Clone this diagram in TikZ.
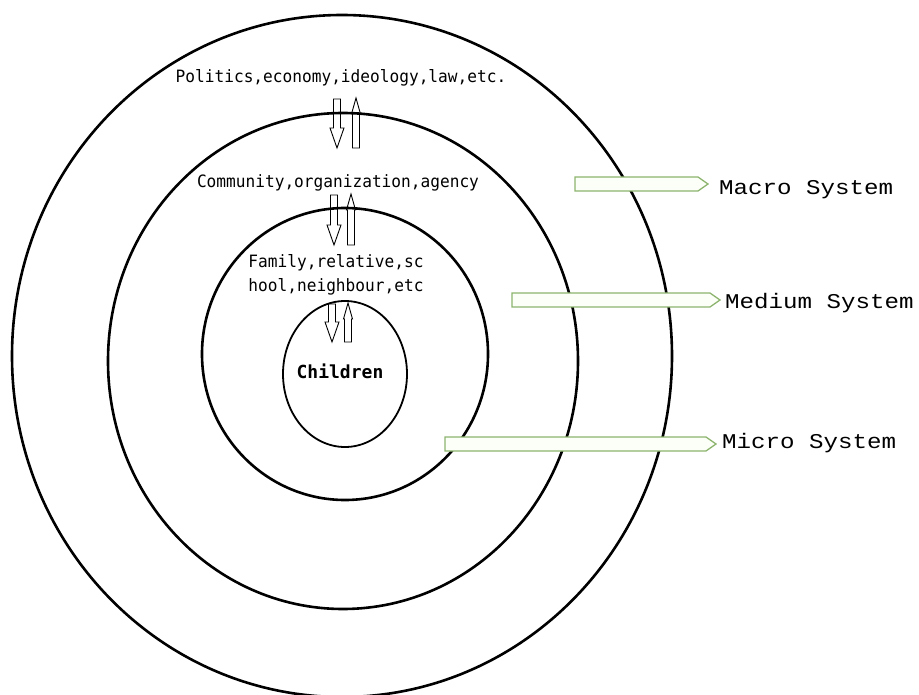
\documentclass[tikz,border=0pt]{standalone}
\usepackage{fontspec}
\usepackage{tikz}
\newfontfamily\monofont{DejaVu Sans Mono}
\newfontfamily\labelfont{Liberation Mono}
\definecolor{arrowgreen}{HTML}{8DB46E}
\definecolor{arrowfill}{HTML}{FBFFF7}
\tikzset{ring/.style={line width=2.6pt},
  levelarrow/.style={draw=arrowgreen,fill=arrowfill,line width=1.3pt},
  flowarrow/.style={draw,line width=0.9pt,line join=miter},
  systext/.style={font=\labelfont\fontsize{21}{24}\selectfont,xscale=1.15,anchor=west,inner sep=0pt}}
% green block arrow: x start, x end, y
\newcommand{\levelarr}[3]{\draw[levelarrow](#1,#3-7)--(#2-10,#3-7)--(#2,#3)--(#2-10,#3+7)--(#1,#3+7)--cycle;}
\begin{document}
\begin{tikzpicture}[x=1pt,y=-1pt]
\useasboundingbox (0,0) rectangle (919,695);
% the four systems
\draw[ring](342,356) ellipse (330 and 341);
\draw[ring](343,361) ellipse (235 and 248);
\draw[ring](345,354) ellipse (143 and 146);
\draw[line width=1.8pt](345,374) ellipse (62 and 73);
% texts inside
\node (pol) at (341,78)[font=\monofont\fontsize{17}{20}\selectfont,xscale=0.95]{Politics,economy,ideology,law,etc.};
\node (com) at (338,183)[font=\monofont\fontsize{17}{20}\selectfont,xscale=0.95]{Community,organization,agency};
\node (fam) at (336,275)[font=\monofont\fontsize{17}{24}\selectfont,xscale=0.95,align=left]{Family,relative,sc\\hool,neighbour,etc};
\node (chi) at (340,371)[font=\monofont\bfseries\fontsize{18}{20}\selectfont]{Children};
% up and down arrows between levels
\foreach \dx/\ux/\ta/\tb in {337/356/99/148, 334/351/195/245, 332/348/304/342}{
  \draw[flowarrow](\dx-3.5,\ta)--(\dx+3.5,\ta)--(\dx+3.5,\tb-20)--(\dx+7,\tb-20)--(\dx,\tb)
    --(\dx-7,\tb-20)--(\dx-3.5,\tb-20)--cycle;
  \draw[flowarrow](\ux,\ta-1)--(\ux+4.5,\ta+15)--(\ux+3.5,\ta+15)--(\ux+3.5,\tb)--(\ux-3.5,\tb)
    --(\ux-3.5,\ta+15)--(\ux-4.5,\ta+15)--cycle;
}
% level labels
\levelarr{575}{708}{184}
\levelarr{512}{720}{300}
\levelarr{445}{716}{444}
\node (mac) at (719,190)[systext]{Macro System};
\node (med) at (725,303)[systext]{Medium System};
\node (mic) at (722,443)[systext]{Micro System};
\end{tikzpicture}
\end{document}
